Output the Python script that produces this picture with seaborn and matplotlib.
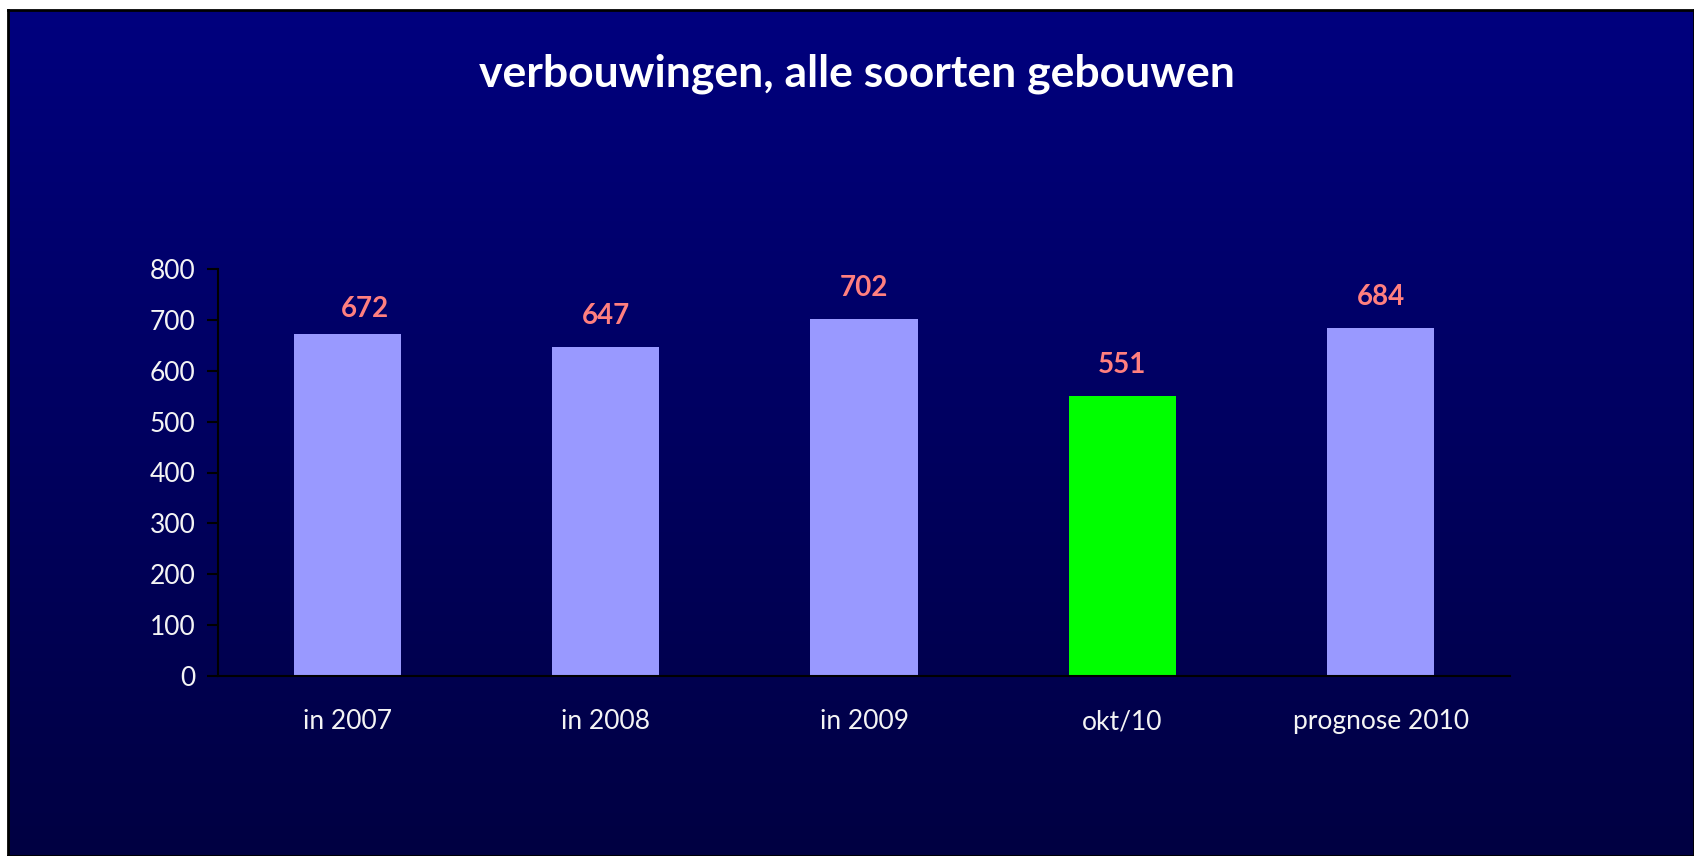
import numpy as np
import matplotlib
matplotlib.use("Agg")
import matplotlib.pyplot as plt
import seaborn as sns
from matplotlib.colors import LinearSegmentedColormap

categories = ["in 2007", "in 2008", "in 2009", "okt/10", "prognose 2010"]
values = [672, 647, 702, 551, 684]
bar_colors = ["#9999FF", "#9999FF", "#9999FF", "#00FF00", "#9999FF"]
y_ticks = [0, 100, 200, 300, 400, 500, 600, 700, 800]

sns.set_style("white")
plt.rcParams["font.family"] = ["Lato", "DejaVu Sans"]

W, H = 1694, 856
fig = plt.figure(figsize=(W / 100, H / 100), dpi=100)
fig.patch.set_facecolor("white")

# background panel with vertical gradient
bg = fig.add_axes([8 / W, 0, 1 - 8 / W, 1 - 10 / H])
grad = LinearSegmentedColormap.from_list("bg", ["#00007E", "#000042"])
bg.imshow(np.linspace(0, 1, 256).reshape(-1, 1), aspect="auto", cmap=grad,
          extent=[0, 1, 0, 1], origin="upper")
bg.set_xticks([])
bg.set_yticks([])
for s in bg.spines.values():
    s.set_color("black")
    s.set_linewidth(2)

ax = fig.add_axes([218 / W, 1 - 676 / H, (1510 - 218) / W, (676 - 269) / H])
ax.patch.set_alpha(0)

sns.barplot(x=categories, y=values, hue=categories, palette=bar_colors,
            legend=False, width=0.415, saturation=1, edgecolor="none",
            linewidth=0, ax=ax)

ax.set_ylim(0, 800)
ax.set_xlim(-0.5, len(categories) - 0.5)
ax.set_yticks(y_ticks)
ax.set_yticklabels([str(t) for t in y_ticks], color="#F4F4F4", fontsize=19)
ax.set_xticks(range(len(categories)))
ax.set_xticklabels(categories, color="#F4F4F4", fontsize=19)
ax.set_xticks(np.arange(-0.5, len(categories)), minor=True)
ax.tick_params(axis="x", which="major", length=0, pad=24)
ax.tick_params(axis="x", which="minor", length=8, width=1.5, color="black", direction="out")
ax.tick_params(axis="y", length=8, width=1.5, color="black", direction="out", left=True, pad=8)
ax.set_xlabel("")
ax.set_ylabel("")
for side in ["top", "right"]:
    ax.spines[side].set_visible(False)
for side in ["left", "bottom"]:
    ax.spines[side].set_color("black")
    ax.spines[side].set_linewidth(1.5)

# value labels (first one sits a bit to the right in the original)
label_dx = [13, 0, 0, 0, 0]
label_dy = [18, 22, 22, 22, 22]
for i, v in enumerate(values):
    ax.annotate(str(v), (i, v), xytext=(label_dx[i], label_dy[i]),
                textcoords="offset points", ha="center", va="center",
                color="#FF7F7F", fontsize=20, fontweight="bold")

fig.text(857 / W, 1 - 74 / H, "verbouwingen, alle soorten gebouwen",
         ha="center", va="center", color="white", fontsize=32, fontweight="bold")

fig.savefig("out.png", dpi=100)
